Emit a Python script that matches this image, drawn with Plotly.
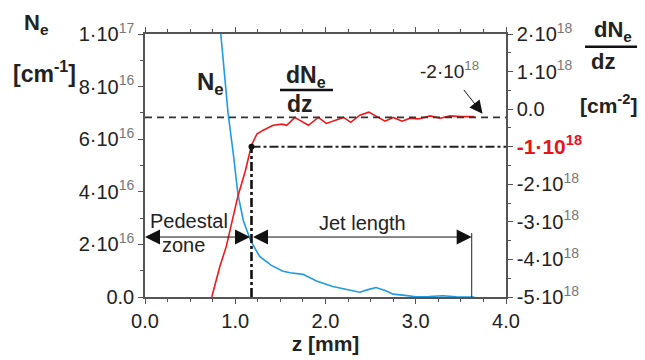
import plotly.graph_objects as go

# ---------------- data ----------------
# N_e profile (z in mm, N_e in units of 1e16 cm^-1)
ne_z = [0.84, 0.92, 0.98, 1.03, 1.09, 1.17, 1.27, 1.40, 1.53, 1.61, 1.75, 1.90,
        2.08, 2.23, 2.38, 2.47, 2.56, 2.66, 2.75, 2.88, 3.00, 3.15, 3.30, 3.45, 3.65]
ne_v = [10.0, 7.0, 5.4, 3.9, 2.9, 2.15, 1.54, 1.2, 0.98, 0.92, 0.86, 0.61,
        0.40, 0.30, 0.18, 0.28, 0.36, 0.25, 0.11, 0.06, 0.01, 0.02, 0.05, 0.01, 0.0]

# dN_e/dz (z in mm, value in units of 1e18 cm^-2)
dn_z = [0.74, 0.83, 0.90, 0.96, 1.03, 1.11, 1.18, 1.24, 1.31, 1.42, 1.52, 1.57,
        1.66, 1.81, 1.92, 2.01, 2.14, 2.20, 2.28, 2.38, 2.48, 2.57, 2.66, 2.75,
        2.85, 2.94, 3.03, 3.16, 3.27, 3.38, 3.50, 3.65]
dn_v = [-5.0, -4.18, -3.66, -3.05, -2.31, -1.66, -0.96, -0.66, -0.56, -0.43, -0.40, -0.43,
        -0.22, -0.43, -0.22, -0.38, -0.27, -0.22, -0.35, -0.16, -0.08, -0.20, -0.32, -0.22,
        -0.32, -0.24, -0.26, -0.18, -0.24, -0.18, -0.20, -0.20]

# reference markers
Z_JET_START = 1.18
Z_JET_END = 3.62
ARROW_LEVEL = 2.28          # on N_e axis (1e16)
ZERO_LEVEL = -0.22          # dashed baseline on dN/dz axis (1e18)
THRESH_LEVEL = -1.0         # dash-dot threshold (1e18)

x_ticks = [0, 1, 2, 3, 4]
x_ticktext = ["0.0", "1.0", "2.0", "3.0", "4.0"]
SUP = "<span style='color:#777'><sup>%s</sup></span>"
y1_ticks = [0, 2, 4, 6, 8, 10]
y1_ticktext = ["0.0", "2·10" + SUP % 16, "4·10" + SUP % 16, "6·10" + SUP % 16,
               "8·10" + SUP % 16, "1·10" + SUP % 17]
y2_ticks = [2, 1, 0, -1, -2, -3, -4, -5]
y2_ticktext = ["2·10" + SUP % 18, "1·10" + SUP % 18, "0.0",
               "<b><span style='color:#e8141c;font-size:21px'>-1·10<sup>18</sup></span></b>",
               "-2·10" + SUP % 18, "-3·10" + SUP % 18, "-4·10" + SUP % 18, "-5·10" + SUP % 18]

FONT = "Liberation Sans, Arial, sans-serif"
AXC = "#555555"
TXT = "#222222"

# page body has an 8px margin; compensate so the plot lands on the right pixels
OFF = 8
W, H = 645 - OFF, 360 - OFF
L, R, T, B = 145 - OFF, 139, 30 - OFF, 62
PW, PH = W - L - R, H - T - B


def px(x):
    return (x - 145) / PW


def py(y):
    return (298 - y) / PH


fig = go.Figure()

fig.add_trace(go.Scatter(x=ne_z, y=ne_v, mode="lines", line=dict(color="#1f9be3", width=1.6),
                         yaxis="y", showlegend=False))
fig.add_trace(go.Scatter(x=dn_z, y=dn_v, mode="lines", line=dict(color="#f01818", width=1.6),
                         yaxis="y2", showlegend=False))
# dashed baseline
fig.add_trace(go.Scatter(x=[0, 4], y=[ZERO_LEVEL, ZERO_LEVEL], mode="lines",
                         line=dict(color="#333", width=1.6, dash="7px,5px"), yaxis="y2", showlegend=False))
# dash-dot threshold lines
fig.add_trace(go.Scatter(x=[Z_JET_START, 4], y=[THRESH_LEVEL, THRESH_LEVEL], mode="lines",
                         line=dict(color="#222", width=2, dash="dashdot"), yaxis="y2", showlegend=False))
fig.add_trace(go.Scatter(x=[Z_JET_START, Z_JET_START], y=[-5, THRESH_LEVEL], mode="lines",
                         line=dict(color="#111", width=2.6, dash="dashdot"), yaxis="y2", showlegend=False))
fig.add_trace(go.Scatter(x=[Z_JET_START], y=[THRESH_LEVEL], mode="markers",
                         marker=dict(color="#111", size=6), yaxis="y2", showlegend=False))
# thin vertical at jet end
fig.add_trace(go.Scatter(x=[Z_JET_END, Z_JET_END], y=[0, ARROW_LEVEL + 0.15], mode="lines",
                         line=dict(color="#222", width=1), yaxis="y", showlegend=False))

ann = []
# arrows
for head, tail in [(0, Z_JET_START), (Z_JET_END, Z_JET_START)]:
    ann.append(dict(x=head, y=ARROW_LEVEL, ax=tail, ay=ARROW_LEVEL, xref="x", yref="y",
                    axref="x", ayref="y", text="", showarrow=True, arrowhead=2, startarrowhead=2,
                    arrowside="end+start", arrowsize=3, startarrowsize=3, arrowwidth=1,
                    arrowcolor="#111", standoff=0, startstandoff=0))


def txt(x, y, s, size=20, bold=False, color=TXT, xa="center"):
    ann.append(dict(x=px(x), y=py(y), xref="paper", yref="paper", text=("<b>%s</b>" % s) if bold else s,
                    showarrow=False, xanchor=xa, yanchor="middle",
                    font=dict(family=FONT, size=size, color=color)))


txt(148, 221, "Pedestal", xa="left")
txt(183, 245, "zone")
txt(362, 223, "Jet length")
txt(210, 80, "N<sub>e</sub>", size=24, bold=True)
txt(306, 73, "dN<sub>e</sub>", size=23, bold=True)
txt(300, 101, "dz", size=23, bold=True)
# left title
txt(36, 20, "N<sub>e</sub>", size=22, bold=True)
txt(44, 69, "[cm<sup>-1</sup>]", size=23, bold=True)
# right title
txt(613, 27, "dN<sub>e</sub>", size=22, bold=True)
txt(603, 58, "dz", size=22, bold=True)
txt(608, 101, "[cm<sup>-2</sup>]", size=21, bold=True)
# annotated value
txt(449, 67, "-2·10" + SUP % 18, size=19)
ann.append(dict(x=3.74, y=-0.12, ax=3.52, ay=0.55, xref="x", yref="y2", axref="x", ayref="y2",
                text="", showarrow=True, arrowhead=2, arrowsize=2.6, arrowwidth=1, arrowcolor="#111",
                standoff=0))

shapes = [
    dict(type="line", xref="paper", yref="paper", x0=px(280), x1=px(333), y0=py(87), y1=py(87),
         line=dict(color="#111", width=2.5)),
    dict(type="line", xref="paper", yref="paper", x0=px(585), x1=px(643), y0=py(43), y1=py(43),
         line=dict(color="#111", width=2.5)),
]

fig.update_layout(
    width=W, height=H, margin=dict(l=L, r=R, t=T, b=B),
    paper_bgcolor="white", plot_bgcolor="white",
    font=dict(family=FONT, size=20, color=TXT),
    annotations=ann, shapes=shapes,
    xaxis=dict(range=[0, 4], tickvals=x_ticks, ticktext=x_ticktext, showgrid=False, zeroline=False,
               showline=True, linecolor=AXC, linewidth=1.5, mirror="ticks", ticks="outside",
               ticklen=5, tickcolor=AXC, minor=dict(dtick=0.25, ticklen=3, tickcolor=AXC),
               title=dict(text="<b>z [mm]</b>", font=dict(size=21), standoff=2)),
    yaxis=dict(range=[0, 10], tickvals=y1_ticks, ticktext=y1_ticktext, showgrid=False, zeroline=False,
               showline=True, linecolor=AXC, linewidth=1.5, ticks="outside", ticklen=5, tickcolor=AXC,
               minor=dict(dtick=1, ticklen=3, tickcolor=AXC)),
    yaxis2=dict(range=[-5, 2], overlaying="y", side="right", tickvals=y2_ticks, ticktext=y2_ticktext,
                showgrid=False, zeroline=False, showline=True, linecolor=AXC, linewidth=1.5,
                ticks="outside", ticklen=5, tickcolor=AXC, minor=dict(dtick=0.5, ticklen=3, tickcolor=AXC)),
)

fig.write_html("out.html")
